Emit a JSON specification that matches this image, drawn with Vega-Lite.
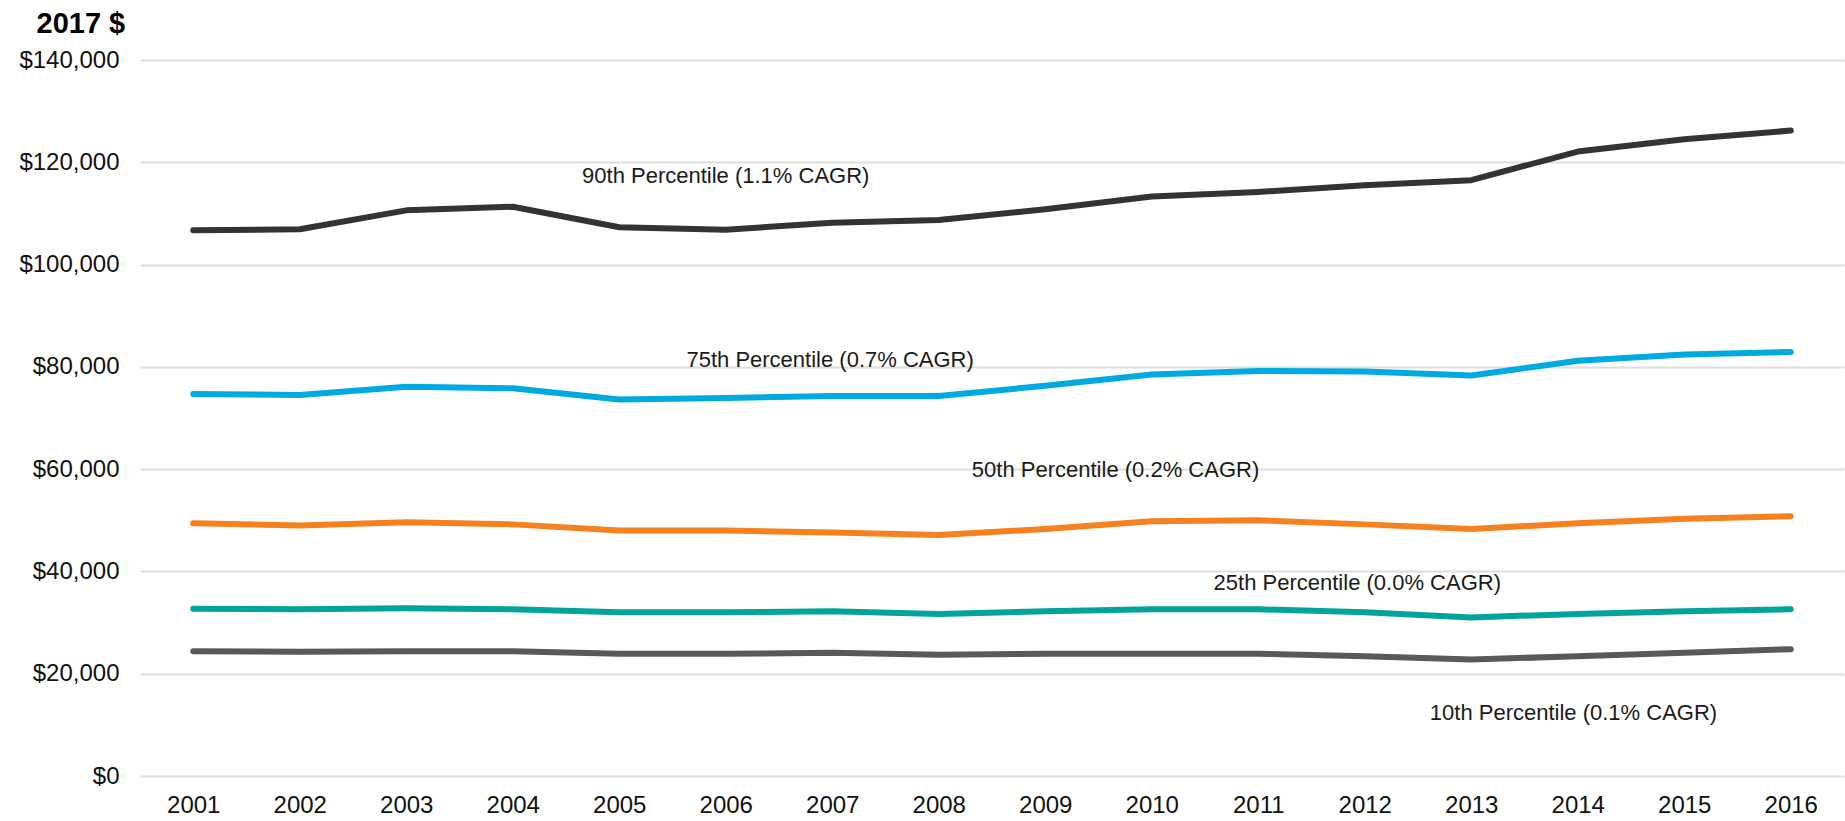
{
  "$schema": "https://vega.github.io/schema/vega-lite/v6.json",
  "width": 1704,
  "height": 716,
  "autosize": "none",
  "padding": {"left": 140, "top": 60, "right": 1, "bottom": 45},
  "background": "white",
  "config": {
    "view": {"stroke": null},
    "font": "Liberation Sans"
  },
  "datasets": {
    "lines": [
      {"year": 2001, "series": "90th", "value": 106700},
      {"year": 2002, "series": "90th", "value": 106900},
      {"year": 2003, "series": "90th", "value": 110600},
      {"year": 2004, "series": "90th", "value": 111300},
      {"year": 2005, "series": "90th", "value": 107300},
      {"year": 2006, "series": "90th", "value": 106800},
      {"year": 2007, "series": "90th", "value": 108200},
      {"year": 2008, "series": "90th", "value": 108700},
      {"year": 2009, "series": "90th", "value": 110800},
      {"year": 2010, "series": "90th", "value": 113300},
      {"year": 2011, "series": "90th", "value": 114200},
      {"year": 2012, "series": "90th", "value": 115500},
      {"year": 2013, "series": "90th", "value": 116500},
      {"year": 2014, "series": "90th", "value": 122100},
      {"year": 2015, "series": "90th", "value": 124500},
      {"year": 2016, "series": "90th", "value": 126200},
      {"year": 2001, "series": "75th", "value": 74700},
      {"year": 2002, "series": "75th", "value": 74500},
      {"year": 2003, "series": "75th", "value": 76100},
      {"year": 2004, "series": "75th", "value": 75800},
      {"year": 2005, "series": "75th", "value": 73600},
      {"year": 2006, "series": "75th", "value": 73900},
      {"year": 2007, "series": "75th", "value": 74300},
      {"year": 2008, "series": "75th", "value": 74300},
      {"year": 2009, "series": "75th", "value": 76300},
      {"year": 2010, "series": "75th", "value": 78500},
      {"year": 2011, "series": "75th", "value": 79200},
      {"year": 2012, "series": "75th", "value": 79100},
      {"year": 2013, "series": "75th", "value": 78300},
      {"year": 2014, "series": "75th", "value": 81200},
      {"year": 2015, "series": "75th", "value": 82400},
      {"year": 2016, "series": "75th", "value": 82900},
      {"year": 2001, "series": "50th", "value": 49400},
      {"year": 2002, "series": "50th", "value": 49000},
      {"year": 2003, "series": "50th", "value": 49600},
      {"year": 2004, "series": "50th", "value": 49200},
      {"year": 2005, "series": "50th", "value": 48000},
      {"year": 2006, "series": "50th", "value": 48000},
      {"year": 2007, "series": "50th", "value": 47600},
      {"year": 2008, "series": "50th", "value": 47100},
      {"year": 2009, "series": "50th", "value": 48300},
      {"year": 2010, "series": "50th", "value": 49800},
      {"year": 2011, "series": "50th", "value": 50000},
      {"year": 2012, "series": "50th", "value": 49200},
      {"year": 2013, "series": "50th", "value": 48300},
      {"year": 2014, "series": "50th", "value": 49400},
      {"year": 2015, "series": "50th", "value": 50300},
      {"year": 2016, "series": "50th", "value": 50800},
      {"year": 2001, "series": "25th", "value": 32700},
      {"year": 2002, "series": "25th", "value": 32600},
      {"year": 2003, "series": "25th", "value": 32800},
      {"year": 2004, "series": "25th", "value": 32600},
      {"year": 2005, "series": "25th", "value": 32000},
      {"year": 2006, "series": "25th", "value": 32000},
      {"year": 2007, "series": "25th", "value": 32200},
      {"year": 2008, "series": "25th", "value": 31700},
      {"year": 2009, "series": "25th", "value": 32200},
      {"year": 2010, "series": "25th", "value": 32600},
      {"year": 2011, "series": "25th", "value": 32600},
      {"year": 2012, "series": "25th", "value": 32000},
      {"year": 2013, "series": "25th", "value": 31000},
      {"year": 2014, "series": "25th", "value": 31700},
      {"year": 2015, "series": "25th", "value": 32200},
      {"year": 2016, "series": "25th", "value": 32600},
      {"year": 2001, "series": "10th", "value": 24400},
      {"year": 2002, "series": "10th", "value": 24300},
      {"year": 2003, "series": "10th", "value": 24400},
      {"year": 2004, "series": "10th", "value": 24400},
      {"year": 2005, "series": "10th", "value": 23900},
      {"year": 2006, "series": "10th", "value": 23900},
      {"year": 2007, "series": "10th", "value": 24100},
      {"year": 2008, "series": "10th", "value": 23700},
      {"year": 2009, "series": "10th", "value": 23900},
      {"year": 2010, "series": "10th", "value": 23900},
      {"year": 2011, "series": "10th", "value": 23900},
      {"year": 2012, "series": "10th", "value": 23400},
      {"year": 2013, "series": "10th", "value": 22800},
      {"year": 2014, "series": "10th", "value": 23400},
      {"year": 2015, "series": "10th", "value": 24100},
      {"year": 2016, "series": "10th", "value": 24800}
    ],
    "labels": [
      {"year": 2006.0, "value": 117400, "label": "90th Percentile (1.1% CAGR)"},
      {"year": 2006.98, "value": 81300, "label": "75th Percentile (0.7% CAGR)"},
      {"year": 2009.66, "value": 59900, "label": "50th Percentile (0.2% CAGR)"},
      {"year": 2011.93, "value": 37800, "label": "25th Percentile (0.0% CAGR)"},
      {"year": 2013.96, "value": 12300, "label": "10th Percentile (0.1% CAGR)"}
    ]
  },
  "layer": [
    {
      "data": {"name": "lines"},
      "mark": {"type": "line", "strokeWidth": 6, "strokeCap": "round", "strokeJoin": "round", "interpolate": "linear"},
      "encoding": {
        "x": {
          "field": "year", "type": "quantitative",
          "scale": {"domain": [2000.5, 2016.5], "nice": false, "zero": false},
          "axis": {
            "values": [2001, 2002, 2003, 2004, 2005, 2006, 2007, 2008, 2009, 2010, 2011, 2012, 2013, 2014, 2015, 2016],
            "format": "d", "title": null, "grid": false, "domain": false, "ticks": false,
            "labelFontSize": 24, "labelColor": "#111111", "labelPadding": 17, "labelFlush": false
          }
        },
        "y": {
          "field": "value", "type": "quantitative",
          "scale": {"domain": [0, 140000], "nice": false},
          "axis": {
            "values": [0, 20000, 40000, 60000, 80000, 100000, 120000, 140000],
            "format": "$,.0f",
            "title": "2017 $",
            "titleAngle": 0, "titleAlign": "left", "titleBaseline": "alphabetic",
            "titleX": -104, "titleY": -28, "titleFontSize": 29, "titleFontWeight": "bold", "titleColor": "#000000",
            "grid": true, "gridColor": "#dedede", "gridWidth": 2,
            "domain": false, "ticks": false,
            "labelFontSize": 24, "labelColor": "#111111", "labelPadding": 21
          }
        },
        "color": {
          "field": "series", "type": "nominal",
          "scale": {
            "domain": ["90th", "75th", "50th", "25th", "10th"],
            "range": ["#333333", "#00a9e0", "#f5821f", "#00a499", "#595959"]
          },
          "legend": null
        }
      }
    },
    {
      "data": {"name": "labels"},
      "mark": {"type": "text", "fontSize": 22, "color": "#1a1a1a", "align": "center", "baseline": "middle"},
      "encoding": {
        "x": {"field": "year", "type": "quantitative"},
        "y": {"field": "value", "type": "quantitative"},
        "text": {"field": "label"}
      }
    }
  ]
}
